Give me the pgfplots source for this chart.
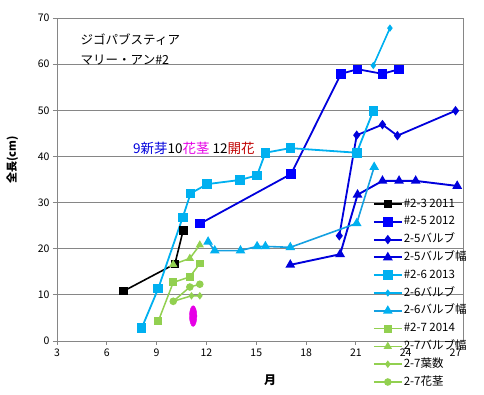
\documentclass[border=0pt]{standalone}
\usepackage{pgfplots}
\pgfplotsset{compat=1.18}
\usepackage{fontspec}
\setmainfont{Noto Sans CJK JP}
\definecolor{dblue}{RGB}{0,0,220}
\definecolor{lblue}{RGB}{0,176,240}
\definecolor{mblue}{RGB}{20,160,225}
\definecolor{lgreen}{RGB}{146,208,80}
\definecolor{gridgray}{RGB}{134,134,134}
\definecolor{magen}{RGB}{230,0,230}
\definecolor{dred}{RGB}{192,0,0}
\begin{document}
\begin{tikzpicture}
\begin{axis}[
  at={(57pt,54pt)}, anchor=south west,
  scale only axis, width=406pt, height=323pt,
  xmin=3, xmax=27.45, ymin=0, ymax=70,
  xtick={3,6,...,27}, ytick={0,10,...,70},
  xtick pos=bottom, ytick pos=left,
  tick align=outside, major tick length=4pt,
  tick style={gridgray, line width=0.8pt},
  ymajorgrids, grid style={gridgray, line width=0.9pt},
  axis line style={gridgray, line width=0.9pt},
  /pgf/number format/assume math mode=true,
  tick label style={font=\fontsize{10.5}{12}\selectfont},
  xlabel={月}, ylabel={全長(cm)},
  xlabel style={font=\bfseries\fontsize{12}{14}\selectfont, at={(axis description cs:0.525,-0.121)}, anchor=center},
  ylabel style={font=\bfseries\fontsize{11}{13}\selectfont, at={(axis description cs:-0.11,0.56)}, anchor=center},
  clip=false,
  legend cell align=left,
  legend style={draw=none, fill=none, inner sep=0pt, outer sep=0pt,
    at={(rel axis cs:0.778,0.4396)}, anchor=north west,
    font=\fontsize{11.5}{12}\selectfont,
    row sep=7.8pt, column sep=1pt,
    nodes={inner sep=0pt, text height=8pt, text depth=2pt}},
  legend image code/.code={\draw[mark repeat=2, mark phase=2, #1] plot coordinates {(0pt,0pt) (14pt,0pt) (28pt,0pt)};},
]
% #2-3 2011
\addplot[black, line width=1.6pt, mark=square*, mark size=3.5pt, mark options={solid, fill=black}] coordinates {(7.0,10.8) (10.1,16.7) (10.6,24.0)};
\addlegendentry{\#2-3 2011}
% #2-5 2012
\addplot[dblue, line width=1.8pt, mark=square*, mark size=3.8pt, mark options={solid, fill=blue, draw=blue}] coordinates {(11.6,25.4) (17.1,36.2) (20.1,57.9) (21.1,58.9) (22.6,57.9) (23.6,58.9)};
\addlegendentry{\#2-5 2012}
% 2-5 bulb
\addplot[dblue, line width=1.8pt, mark=diamond*, mark size=3.3pt, mark options={solid, fill=dblue}] coordinates {(20.0,22.8) (21.05,44.6) (22.6,46.9) (23.5,44.5) (27.0,49.9)};
\addlegendentry{2-5バルブ}
% 2-5 bulb width
\addplot[dblue, line width=1.9pt, mark=triangle*, mark size=3.8pt, mark options={solid, fill=dblue}] coordinates {(17.05,16.5) (20.05,18.8) (21.1,31.7) (22.6,34.7) (23.6,34.7) (24.6,34.7) (27.1,33.6)};
\addlegendentry{2-5バルブ幅}
% #2-6 2013
\addplot[lblue, line width=1.8pt, mark=square*, mark size=3.9pt, mark options={solid, fill=lblue}] coordinates {(8.1,2.8) (9.1,11.4) (10.57,26.8) (11.05,32.0) (12.05,34.0) (14.02,34.9) (15.05,35.9) (15.55,40.8) (17.05,41.8) (21.05,40.8) (22.05,49.9)};
\addlegendentry{\#2-6 2013}
% 2-6 bulb
\addplot[lblue, line width=1.6pt, mark=diamond*, mark size=2.4pt, mark options={solid, fill=lblue}] coordinates {(22.05,59.7) (23.05,67.8)};
\addlegendentry{2-6バルブ}
% 2-6 bulb width
\addplot[mblue, line width=1.6pt, mark=triangle*, mark size=4pt, mark options={solid, fill=lblue, draw=lblue}] coordinates {(12.1,21.5) (12.5,19.6) (14.05,19.6) (15.05,20.5) (15.55,20.5) (17.05,20.3) (21.05,25.5) (22.1,37.7)};
\addlegendentry{2-6バルブ幅}
% #2-7 2014
\addplot[lgreen, line width=1.5pt, mark=square*, mark size=3.2pt, mark options={solid, fill=lgreen}] coordinates {(9.1,4.3) (10.0,12.7) (11.0,13.9) (11.6,16.8)};
\addlegendentry{\#2-7 2014}
% 2-7 bulb width
\addplot[lgreen, line width=1.5pt, mark=triangle*, mark size=3.3pt, mark options={solid, fill=lgreen}] coordinates {(10.0,16.6) (11.0,17.9) (11.6,20.8)};
\addlegendentry{2-7バルブ幅}
% 2-7 leaves
\addplot[lgreen, line width=1.5pt, mark=diamond*, mark size=2.6pt, mark options={solid, fill=lgreen}] coordinates {(10.0,8.6) (11.1,9.8) (11.6,9.8)};
\addlegendentry{2-7葉数}
% 2-7 flower stalk
\addplot[lgreen, line width=1.5pt, mark=*, mark size=3pt, mark options={solid, fill=lgreen}] coordinates {(10.0,8.6) (11.0,11.7) (11.6,12.3)};
\addlegendentry{2-7花茎}
% magenta ellipse
\addplot[forget plot, only marks, mark=*, mark size=3.7pt, mark options={fill=magen, draw=magen, yscale=2.8}] coordinates {(11.2,5.4)};
% texts
\node[anchor=west, font=\fontsize{12.5}{14}\selectfont, inner sep=0pt] at (rel axis cs:0.058,0.932) {ジゴパブスティア};
\node[anchor=west, font=\fontsize{12.5}{14}\selectfont, inner sep=0pt] at (rel axis cs:0.058,0.870) {マリー・アン\#2};
\node[anchor=center, font=\fontsize{13.5}{15}\selectfont, inner sep=0pt] at (rel axis cs:0.3374,0.5975) {\textcolor{dblue}{9新芽}10\textcolor{magen}{花茎} 12\textcolor{dred}{開花}};
\end{axis}
\pgfresetboundingbox
\path[use as bounding box] (0,0) rectangle (484pt,395pt);
\end{tikzpicture}
\end{document}
